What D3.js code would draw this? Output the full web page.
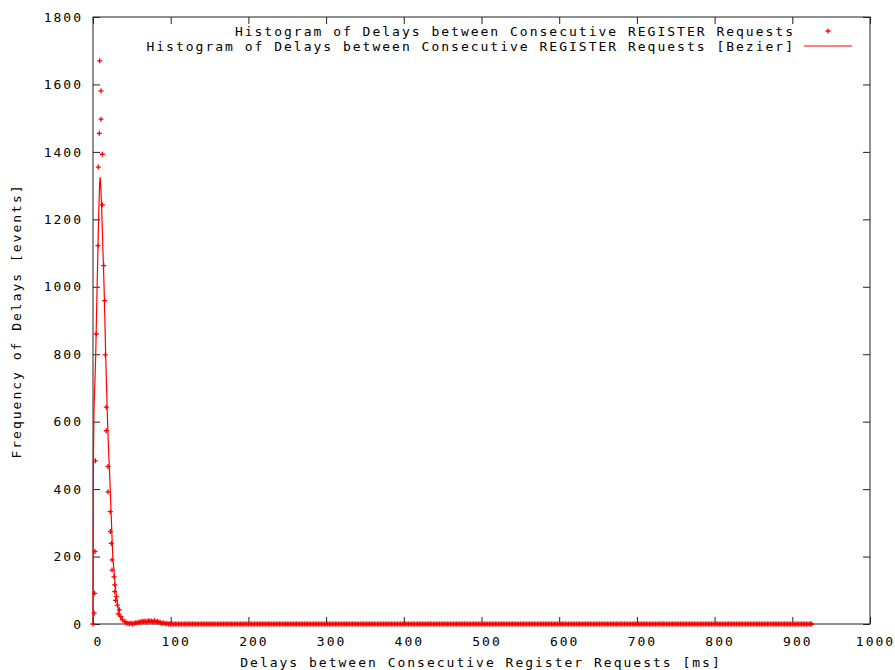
<!DOCTYPE html>
<html>
<head>
<meta charset="utf-8">
<script src="https://cdn.jsdelivr.net/npm/d3@7"></script>
<style>
  body { margin: 0; background: #fff; }
  text { font-family: "DejaVu Sans Mono", monospace; font-size: 13px; letter-spacing: 2px; fill: #000; }
</style>
</head>
<body>
<svg id="chart" width="895" height="670"></svg>
<script>
// histogram points (delay in ms, number of events)
const peakDelays = [0, 1.5, 2, 2.5, 3, 4.2, 6.4, 6.8, 8.1, 8.6, 10.3, 10.3, 12, 12, 13.8, 15, 15.8, 17.1, 17.1,
  19.3, 19.3, 22.3, 22.3, 23.6, 24.5, 24.5, 27, 27.9, 27.9, 29, 30, 31.3, 32.5, 34, 36, 38, 41, 43]
const peakCounts = [0, 32, 91, 215, 484, 860, 1122, 1355, 1455, 1670, 1581, 1497, 1393, 1243, 1063, 959, 798, 643, 573,
  467, 392, 333, 274, 239, 190, 160, 140, 116, 96, 70, 81, 56, 30, 42, 22, 12, 7, 3]

// long tail: almost every bin is empty out to ~925 ms
const tailDelays = [45, 47, 49, 51, 53, 55, 57, 59, 61, 63, 65, 67, 69, 71, 73, 75, 77, 79, 81, 83, 85, 87, 89, 91, 93, 95, 97, 99,
  100, 102, 104, 106, 108, 110, 112, 114, 116, 118, 120, 122, 124, 126, 128, 130, 132, 134, 136, 138, 140, 142, 144, 146, 148,
  150, 152, 154, 156, 158, 160, 162, 164, 166, 168, 170, 172, 174, 176, 178, 180, 182, 184, 186, 188, 190, 192, 194, 196, 198,
  200, 202, 204, 206, 208, 210, 212, 214, 216, 218, 220, 222, 224, 226, 228, 230, 232, 234, 236, 238, 240, 242, 244, 246, 248,
  250, 252, 254, 256, 258, 260, 262, 264, 266, 268, 270, 272, 274, 276, 278, 280, 282, 284, 286, 288, 290, 292, 294, 296, 298,
  300, 302, 304, 306, 308, 310, 312, 314, 316, 318, 320, 322, 324, 326, 328, 330, 332, 334, 336, 338, 340, 342, 344, 346, 348,
  350, 352, 354, 356, 358, 360, 362, 364, 366, 368, 370, 372, 374, 376, 378, 380, 382, 384, 386, 388, 390, 392, 394, 396, 398,
  400, 402, 404, 406, 408, 410, 412, 414, 416, 418, 420, 422, 424, 426, 428, 430, 432, 434, 436, 438, 440, 442, 444, 446, 448,
  450, 452, 454, 456, 458, 460, 462, 464, 466, 468, 470, 472, 474, 476, 478, 480, 482, 484, 486, 488, 490, 492, 494, 496, 498,
  500, 502, 504, 506, 508, 510, 512, 514, 516, 518, 520, 522, 524, 526, 528, 530, 532, 534, 536, 538, 540, 542, 544, 546, 548,
  550, 552, 554, 556, 558, 560, 562, 564, 566, 568, 570, 572, 574, 576, 578, 580, 582, 584, 586, 588, 590, 592, 594, 596, 598,
  600, 602, 604, 606, 608, 610, 612, 614, 616, 618, 620, 622, 624, 626, 628, 630, 632, 634, 636, 638, 640, 642, 644, 646, 648,
  650, 652, 654, 656, 658, 660, 662, 664, 666, 668, 670, 672, 674, 676, 678, 680, 682, 684, 686, 688, 690, 692, 694, 696, 698,
  700, 702, 704, 706, 708, 710, 712, 714, 716, 718, 720, 722, 724, 726, 728, 730, 732, 734, 736, 738, 740, 742, 744, 746, 748,
  750, 752, 754, 756, 758, 760, 762, 764, 766, 768, 770, 772, 774, 776, 778, 780, 782, 784, 786, 788, 790, 792, 794, 796, 798,
  800, 802, 804, 806, 808, 810, 812, 814, 816, 818, 820, 822, 824, 826, 828, 830, 832, 834, 836, 838, 840, 842, 844, 846, 848,
  850, 852, 854, 856, 858, 860, 862, 864, 866, 868, 870, 872, 874, 876, 878, 880, 882, 884, 886, 888, 890, 892, 894, 896, 898,
  900, 902, 904, 906, 908, 910, 912, 914, 916, 918, 920, 922, 924, 925]
const tailCounts = [2, 1, 3, 0, 2, 4, 3, 6, 5, 8, 7, 9, 6, 10, 8, 9, 7, 10, 6, 8, 5, 4, 2, 3, 1, 2, 0, 1,
  0, 0, 0, 0, 0, 0, 0, 0, 0, 0, 0, 0, 0, 0, 0, 0, 0, 0, 0, 0, 0, 0, 0, 0, 0,
  0, 0, 0, 0, 0, 0, 0, 0, 0, 0, 0, 0, 0, 0, 0, 0, 0, 0, 0, 0, 0, 0, 0, 0, 0,
  0, 0, 0, 0, 0, 0, 0, 0, 0, 0, 0, 0, 0, 0, 0, 0, 0, 0, 0, 0, 0, 0, 0, 0, 0,
  0, 0, 0, 0, 0, 0, 0, 0, 0, 0, 0, 0, 0, 0, 0, 0, 0, 0, 0, 0, 0, 0, 0, 0, 0,
  0, 0, 0, 0, 0, 0, 0, 0, 0, 0, 0, 0, 0, 0, 0, 0, 0, 0, 0, 0, 0, 0, 0, 0, 0,
  0, 0, 0, 0, 0, 0, 0, 0, 0, 0, 0, 0, 0, 0, 0, 0, 0, 0, 0, 0, 0, 0, 0, 0, 0,
  0, 0, 0, 0, 0, 0, 0, 0, 0, 0, 0, 0, 0, 0, 0, 0, 0, 0, 0, 0, 0, 0, 0, 0, 0,
  0, 0, 0, 0, 0, 0, 0, 0, 0, 0, 0, 0, 0, 0, 0, 0, 0, 0, 0, 0, 0, 0, 0, 0, 0,
  0, 0, 0, 0, 0, 0, 0, 0, 0, 0, 0, 0, 0, 0, 0, 0, 0, 0, 0, 0, 0, 0, 0, 0, 0,
  0, 0, 0, 0, 0, 0, 0, 0, 0, 0, 0, 0, 0, 0, 0, 0, 0, 0, 0, 0, 0, 0, 0, 0, 0,
  0, 0, 0, 0, 0, 0, 0, 0, 0, 0, 0, 0, 0, 0, 0, 0, 0, 0, 0, 0, 0, 0, 0, 0, 0,
  0, 0, 0, 0, 0, 0, 0, 0, 0, 0, 0, 0, 0, 0, 0, 0, 0, 0, 0, 0, 0, 0, 0, 0, 0,
  0, 0, 0, 0, 0, 0, 0, 0, 0, 0, 0, 0, 0, 0, 0, 0, 0, 0, 0, 0, 0, 0, 0, 0, 0,
  0, 0, 0, 0, 0, 0, 0, 0, 0, 0, 0, 0, 0, 0, 0, 0, 0, 0, 0, 0, 0, 0, 0, 0, 0,
  0, 0, 0, 0, 0, 0, 0, 0, 0, 0, 0, 0, 0, 0, 0, 0, 0, 0, 0, 0, 0, 0, 0, 0, 0,
  0, 0, 0, 0, 0, 0, 0, 0, 0, 0, 0, 0, 0, 0, 0, 0, 0, 0, 0, 0, 0, 0, 0, 0, 0,
  0, 0, 0, 0, 0, 0, 0, 0, 0, 0, 0, 0, 0, 0]

// smoothed (bezier) curve
const bezierDelays = [0, 0.3, 0.6, 1.3, 2.5, 3.5, 4.2, 5.3, 6.4, 7.5, 8.6, 9.3, 10.2, 11, 12, 12.9, 14, 14.8, 15.6,
  16.5, 17.5, 18.5, 19.5, 20.5, 21.5, 22.5, 23.6, 24.6, 25.7, 27, 28.2, 29.5, 31, 32.5, 34.2, 36, 38.5, 41,
  45, 50, 55, 60, 65, 70, 75, 80, 85, 90, 95, 100, 925]
const bezierCounts = [0, 250, 500, 640, 720, 800, 880, 1000, 1120, 1230, 1310, 1325, 1290, 1240, 1170, 1100, 1020, 950, 870,
  780, 700, 620, 550, 490, 440, 380, 310, 250, 190, 160, 125, 95, 70, 45, 27, 15, 9, 6,
  4, 3, 3, 4, 5, 5, 6, 5, 4, 3, 2, 1, 0]

const xTicks = [0, 100, 200, 300, 400, 500, 600, 700, 800, 900, 1000]
const yTicks = [0, 200, 400, 600, 800, 1000, 1200, 1400, 1600, 1800]

const legendLabels = ["Histogram of Delays between Consecutive REGISTER Requests",
  "Histogram of Delays between Consecutive REGISTER Requests [Bezier]"]
const xTitle = "Delays between Consecutive Register Requests [ms]"
const yTitle = "Frequency of Delays [events]"

const plot = { left: 93, right: 870, top: 17, bottom: 624 }

const svg = d3.select("#chart")

const x = d3.scaleLinear().domain([0, 1000]).range([plot.left, plot.right])
const y = d3.scaleLinear().domain([0, 1800]).range([plot.bottom, plot.top])

// ticks point inward on all four sides, like gnuplot
const axisColor = "#222"
function styleAxis(g) {
    g.select(".domain").remove()
    g.selectAll("line").attr("stroke", axisColor)
}

svg.append("g")
    .attr("transform", "translate(0," + plot.bottom + ")")
    .call(d3.axisBottom(x).tickValues(xTicks).tickSize(-7).tickPadding(13).tickFormat(d3.format("d")))
    .call(styleAxis)
    .call(g => g.selectAll("text").attr("dx", 5).attr("font-size", null).attr("font-family", null))

svg.append("g")
    .attr("transform", "translate(0," + plot.top + ")")
    .call(d3.axisTop(x).tickValues(xTicks).tickSize(-7).tickFormat(""))
    .call(styleAxis)

svg.append("g")
    .attr("transform", "translate(" + plot.left + ",0)")
    .call(d3.axisLeft(y).tickValues(yTicks).tickSize(-7).tickPadding(10).tickFormat(d3.format("d")))
    .call(styleAxis)
    .call(g => g.selectAll("text").attr("font-size", null).attr("font-family", null))

svg.append("g")
    .attr("transform", "translate(" + plot.right + ",0)")
    .call(d3.axisRight(y).tickValues(yTicks).tickSize(-7).tickFormat(""))
    .call(styleAxis)

svg.append("rect")
    .attr("x", plot.left).attr("y", plot.top)
    .attr("width", plot.right - plot.left).attr("height", plot.bottom - plot.top)
    .attr("fill", "none").attr("stroke", axisColor)

const histogram = peakDelays.map((d, i) => ({ delay: d, count: peakCounts[i] }))
    .concat(tailDelays.map((d, i) => ({ delay: d, count: tailCounts[i] })))
const bezier = bezierDelays.map((d, i) => ({ delay: d, count: bezierCounts[i] }))

const red = "#ff0000"
const plus = "M-2.5,0H2.5M0,-2.5V2.5"

// bezier line
svg.append("path")
    .datum(bezier)
    .attr("fill", "none")
    .attr("stroke", red)
    .attr("stroke-width", 1.2)
    .attr("d", d3.line()
        .x(d => x(d.delay))
        .y(d => y(d.count)))

// histogram points
svg.append("g")
    .selectAll("path")
    .data(histogram)
    .enter().append("path")
        .attr("transform", d => "translate(" + x(d.delay) + "," + y(d.count) + ")")
        .attr("d", plus)
        .attr("stroke", red)
        .attr("stroke-width", 1.3)
        .attr("fill", "none")

// legend
const legend = svg.append("g")
legend.selectAll("text")
    .data(legendLabels)
    .enter().append("text")
        .attr("x", 795)
        .attr("y", (d, i) => 31 + i * 15)
        .attr("dy", "0.35em")
        .attr("text-anchor", "end")
        .text(d => d)
legend.append("path")
    .attr("transform", "translate(828,31)")
    .attr("d", plus)
    .attr("stroke", red)
    .attr("stroke-width", 1.3)
legend.append("line")
    .attr("x1", 804).attr("x2", 852)
    .attr("y1", 46).attr("y2", 46)
    .attr("stroke", red)
    .attr("stroke-width", 1.2)

// axis titles
svg.append("text")
    .attr("x", 481)
    .attr("y", 662)
    .attr("dy", "0.35em")
    .attr("text-anchor", "middle")
    .text(xTitle)

svg.append("text")
    .attr("transform", "translate(16,321) rotate(-90)")
    .attr("dy", "0.35em")
    .attr("text-anchor", "middle")
    .text(yTitle)
</script>
</body>
</html>
